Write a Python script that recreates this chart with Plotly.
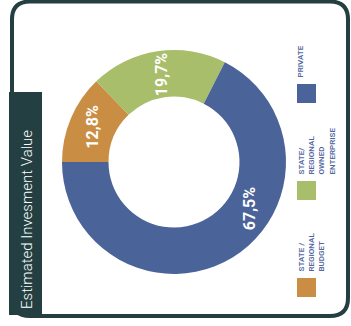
import math
import plotly.graph_objects as go

# Investment share by funding source (percent), clockwise from 9 o'clock
categories = ["STATE / REGIONAL BUDGET", "STATE/ REGIONAL OWNED ENTERPRISE", "PRIVATE"]
shares = [12.8, 19.7, 67.5]
share_labels = ["12,8%", "19,7%", "67,5%"]
slice_colors = ["#C98E44", "#A8BE6A", "#4A6399"]

# Legend entries, top to bottom
legend_labels = ["PRIVATE", "STATE/<br>REGIONAL<br>OWNED<br>ENTERPRISE", "STATE /<br>REGIONAL<br>BUDGET"]
legend_colors = ["#4A6399", "#A8BE6A", "#C98E44"]

title_text = "Estimated Invesment Value"

W, H = 351, 326
DARK = "#243F41"
LEGEND_TEXT = "#5468A0"


def px(x):
    return x / W


def py(y):
    return 1 - y / H


# donut geometry in pixels
cx, cy, r_out, r_in = 174, 162, 112, 65.5
label_frac = [0.5, 0.5, 0.39]  # where along each slice its label sits

fig = go.Figure(
    go.Pie(
        labels=categories,
        values=shares,
        marker=dict(colors=slice_colors, line=dict(width=0)),
        hole=r_in / r_out,
        sort=False,
        direction="clockwise",
        rotation=-90,
        textinfo="none",
        hoverinfo="skip",
        showlegend=False,
        domain=dict(x=[px(cx - r_out), px(cx + r_out)], y=[py(cy + r_out), py(cy - r_out)]),
    )
)

annotations = []
total = sum(shares)
start = 180.0
r_lab = (r_out + r_in) / 2
for val, lab, frac in zip(shares, share_labels, label_frac):
    ang = math.radians(start - 360 * frac * val / total)
    annotations.append(dict(
        x=px(cx + r_lab * math.cos(ang)), y=py(cy - r_lab * math.sin(ang)),
        xref="paper", yref="paper", text=lab, showarrow=False, textangle=-90,
        font=dict(family="Roboto", size=16, color="white", weight="bold"),
        xanchor="center", yanchor="middle",
    ))
    start -= 360 * val / total

shapes = []

# rounded outer frame
L, T, R, B, rad = 12, 1.5, 348, 316, 18
frame = (
    f"M {px(L)},{py(T + rad)} Q {px(L)},{py(T)} {px(L + rad)},{py(T)} "
    f"L {px(R - rad)},{py(T)} Q {px(R)},{py(T)} {px(R)},{py(T + rad)} "
    f"L {px(R)},{py(B - rad)} Q {px(R)},{py(B)} {px(R - rad)},{py(B)} "
    f"L {px(L + rad)},{py(B)} Q {px(L)},{py(B)} {px(L)},{py(B - rad)} Z"
)
shapes.append(dict(type="path", path=frame, xref="paper", yref="paper",
                   line=dict(color=DARK, width=4), fillcolor="rgba(0,0,0,0)"))

# title band on the left
shapes.append(dict(type="rect", xref="paper", yref="paper",
                   x0=px(9), x1=px(42), y0=py(315), y1=py(92),
                   line=dict(width=0), fillcolor=DARK))
annotations.append(dict(
    x=px(27), y=py(220), xref="paper", yref="paper", text=title_text,
    showarrow=False, textangle=-90,
    font=dict(family="Roboto", size=15, color="white", weight=300),
    xanchor="center", yanchor="middle",
))

# legend swatches with rotated labels
sw_x0, sw_size = 297, 19
sw_tops = [84, 181, 278]
for lab, col, top in zip(legend_labels, legend_colors, sw_tops):
    shapes.append(dict(type="rect", xref="paper", yref="paper",
                       x0=px(sw_x0), x1=px(sw_x0 + sw_size),
                       y0=py(top + sw_size), y1=py(top),
                       line=dict(width=0), fillcolor=col))
    annotations.append(dict(
        x=px(sw_x0 - 2), y=py(top - 5), xref="paper", yref="paper", text=lab,
        showarrow=False, textangle=-90, align="left", borderpad=0,
        font=dict(family="Roboto", size=8, color=LEGEND_TEXT, weight=600),
        xanchor="left", yanchor="bottom",
    ))

fig.update_layout(
    width=W, height=H,
    margin=dict(l=0, r=0, t=0, b=0),
    paper_bgcolor="white", plot_bgcolor="white",
    shapes=shapes, annotations=annotations,
)

fig.write_html("out.html")
